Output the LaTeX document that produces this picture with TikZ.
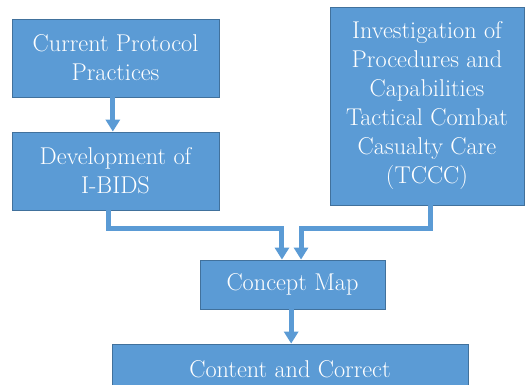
\documentclass[tikz,border=0pt]{standalone}
\usetikzlibrary{arrows.meta}
\definecolor{boxblue}{HTML}{5B9BD5}
\definecolor{edgeblue}{HTML}{41719C}
\tikzset{
  >={Triangle[width=10.5pt,length=9pt]},
}
\tikzstyle{box}=[draw=edgeblue,line width=0.6pt,fill=boxblue,text=white,align=center,inner sep=0pt,font=\fontsize{18.2}{21.75}\selectfont]
\tikzstyle{link}=[draw=boxblue,line width=3.75pt,->]

\begin{document}
\begin{tikzpicture}[x=0.75pt,y=-0.75pt]
    \clip (0,0) rectangle (528,385);
    \node[box,minimum width=155.25pt,minimum height=58.5pt] (practices) at (115.5,58) {Current Protocol\\Practices};
    \node[box,minimum width=155.25pt,minimum height=58.5pt] (ibids) at (115.5,171) {Development of\\I-BIDS};
    \node[box,minimum width=145.5pt,minimum height=148.5pt] (tccc) at (427,106) {Investigation of\\Procedures and\\Capabilities\\Tactical Combat\\Casualty Care\\(TCCC)};
    \node[box,minimum width=138.75pt,minimum height=36.75pt] (cmap) at (292.5,284.5) {Concept Map};
    \node[box,minimum width=267pt,minimum height=37.5pt] (content) at (290,369) {Content and Correct};
    \draw[link] ([xshift=-2pt]practices.south) -- ([xshift=-2pt]ibids.north);
    \draw[link] ([xshift=-5.6pt]ibids.south) -- ++(0,18) -| ([xshift=-7.9pt]cmap.north);
    \draw[link] ([xshift=2.25pt]tccc.south) -- ++(0,23) -| ([xshift=6.4pt]cmap.north);
    \draw[link] ([xshift=-1pt]cmap.south) -- ([xshift=-1pt]content.north -| cmap.south);
\end{tikzpicture}
\end{document}
